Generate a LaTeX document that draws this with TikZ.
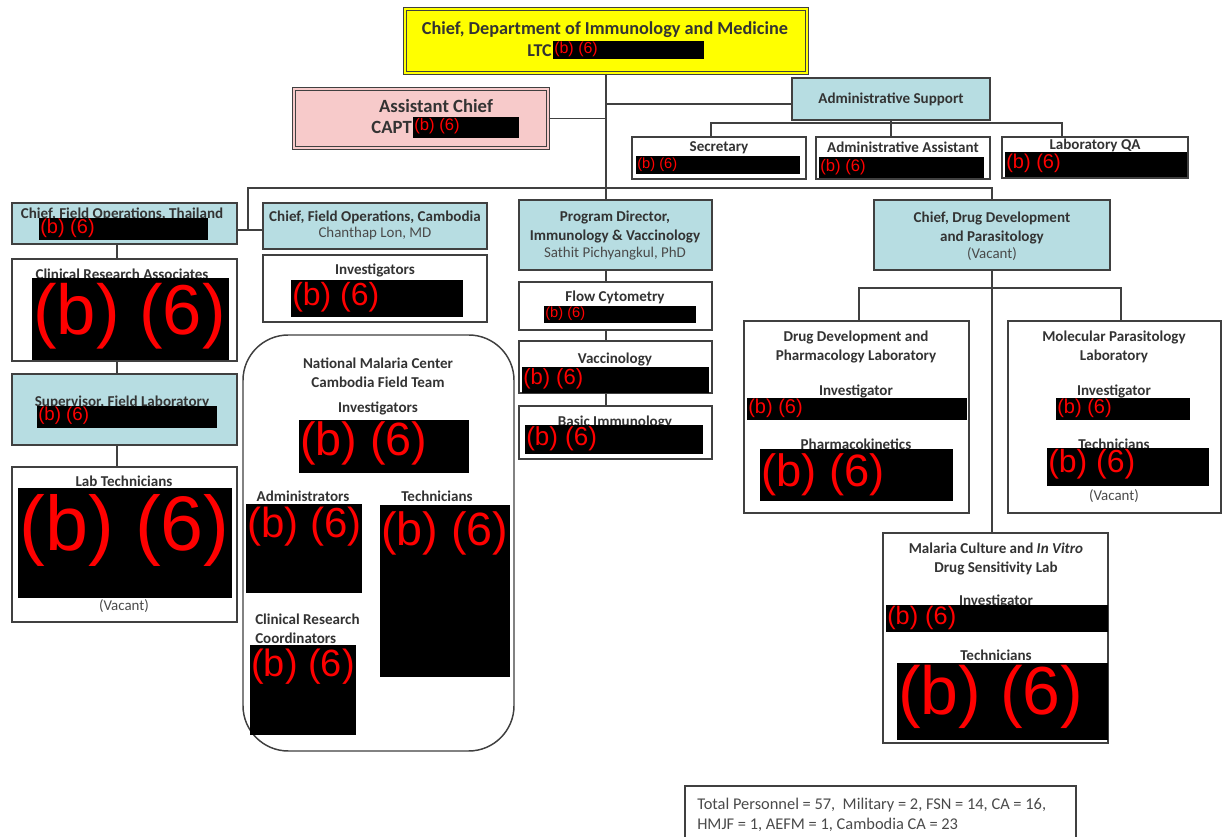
\documentclass[tikz,border=0pt]{standalone}
\usepackage{fontspec}
\setmainfont{Carlito}
\newfontfamily\redfont{Liberation Sans}
\definecolor{linec}{HTML}{404040}
\definecolor{txtc}{HTML}{333333}
\definecolor{subc}{HTML}{4A4A4A}
\definecolor{paleblue}{HTML}{B7DDE2}
\definecolor{pinkc}{HTML}{F7CACA}
\definecolor{yellowc}{HTML}{FFFF00}
\definecolor{redc}{HTML}{FF0000}
% box from corner (x1,y1) to (x2,y2), given in pixel units
\newcommand\orgbox[6][box]{%
  \node[#1, minimum width={(#5-#3)*0.75pt}, minimum height={(#6-#4)*0.75pt}]
    (#2) at ({(#3+#5)/2},{(#4+#6)/2}) {};}
% blacked-out field with its red marking: name x1 y1 x2 y2 text-y size(pt)
\newcommand\redact[7]{%
  \fill[black] (#2,#3) rectangle (#4,#5);
  \node[anchor=west, inner sep=0pt, text=redc,
        font=\redfont\fontsize{#7}{#7}\selectfont] (#1) at ({#2+1},#6) {(b) (6)};}
\begin{document}
\begin{tikzpicture}[x=0.75pt,y=-0.75pt,
  box/.style={draw=linec, line width=1.1pt, fill=white, inner sep=0pt},
  bluebox/.style={box, fill=paleblue},
  topbox/.style={box, fill=yellowc, double=yellowc, double distance=1.6pt, line width=0.8pt},
  pinkbox/.style={box, fill=pinkc, double=pinkc, double distance=1.6pt, line width=0.8pt, draw=linec},
  lbl/.style={text=txtc, font=\bfseries\fontsize{11.3}{13.4}\selectfont, inner sep=0pt, align=center},
  sub/.style={text=subc, font=\fontsize{11.2}{13.4}\selectfont, inner sep=0pt, align=center},
  conn/.style={draw=linec, line width=1pt},
]
\useasboundingbox (0,0) rectangle (1222,837);
\fill[white] (0,0) rectangle (1222,837);

% ---------- boxes ----------
\orgbox[topbox]{chief}{405}{9}{807}{73}
\orgbox[pinkbox]{asst}{294}{89}{548}{148}
\orgbox[bluebox]{admin}{792}{78}{990}{120}
\orgbox{sec}{632}{137}{806}{179}
\orgbox{aa}{816}{137}{990}{179}
\orgbox{qa}{1002}{137}{1188}{178}

\orgbox[bluebox]{tha}{12}{203}{237}{244}
\orgbox[bluebox]{cam}{263}{203}{487}{249}
\orgbox[bluebox]{prog}{519}{200}{712}{270}
\orgbox[bluebox]{drug}{874}{200}{1110}{270}

\orgbox{cra}{12}{259}{237}{361}
\orgbox[bluebox]{sup}{12}{374}{237}{445}
\orgbox{labt}{12}{467}{237}{622}

\orgbox{caminv}{263}{255}{487}{322}
\orgbox[box, rounded corners=34pt]{nmc}{243}{335}{514}{751}

\orgbox{flow}{519}{282}{712}{330}
\orgbox{vacc}{519}{341}{712}{393}
\orgbox{basic}{519}{406}{712}{459}

\orgbox{dd}{744}{321}{969}{513}
\orgbox{mp}{1008}{321}{1221}{513}
\orgbox{mc}{883}{533}{1108}{743}

% ---------- connectors ----------
\coordinate (lx) at (117,0);
\coordinate (px) at (606,0);
\coordinate (jadm) at (606,104);
\coordinate (abusL) at (711,123);
\coordinate (abusR) at (1062,123);
\coordinate (busL) at (248,188);
\coordinate (busR) at (992,188);
\coordinate (jcam) at (248,230);
\coordinate (dbL) at (859,288);
\coordinate (dbR) at (1121,288);

\draw[conn] (chief.south) -- (chief.south |- prog.north);
\draw[conn] (asst.east) -- (asst.east -| px);
\draw[conn] (jadm) -- (jadm -| admin.west);
\draw[conn] (admin.south) -- (admin.south |- aa.north);
\draw[conn] (abusL |- sec.north) -- (abusL) -- (abusR) -- (abusR |- qa.north);
\draw[conn] (jcam) -- (busL) -- (busR) -- (busR |- drug.north);
\draw[conn] (jcam -| tha.east) -- (jcam -| cam.west);
\draw[conn] (lx |- tha.south) -- (lx |- cra.north);
\draw[conn] (lx |- cra.south) -- (lx |- sup.north);
\draw[conn] (lx |- sup.south) -- (lx |- labt.north);
\draw[conn] (px |- prog.south) -- (px |- flow.north);
\draw[conn] (px |- flow.south) -- (px |- vacc.north);
\draw[conn] (px |- vacc.south) -- (px |- basic.north);
\draw[conn] (drug.south) -- (drug.south |- mc.north);
\draw[conn] (dbL |- dd.north) -- (dbL) -- (dbR) -- (dbR |- mp.north);

% ---------- labels ----------
\node[lbl, font=\bfseries\fontsize{13.7}{16}\selectfont] (chiefT) at (605,30) {Chief, Department of Immunology and Medicine};
\node[lbl, anchor=east, font=\bfseries\fontsize{13.5}{16}\selectfont] (ltc) at (552,51) {LTC};
\node[lbl, font=\bfseries\fontsize{14}{16}\selectfont] (asstT) at (436,106) {Assistant Chief};
\node[lbl, anchor=east, font=\bfseries\fontsize{14}{16}\selectfont] (capt) at (412,127) {CAPT};
\node[lbl] (adminT) at (891,99) {Administrative Support};
\node[lbl] (secT) at (719,148) {Secretary};
\node[lbl] (aaT) at (903,147) {Administrative Assistant};
\node[lbl] (qaT) at (1095,145) {Laboratory QA};

\node[lbl] (thaT) at (122,214) {Chief, Field Operations, Thailand};
\node[lbl] (camT) at (375,217) {Chief, Field Operations, Cambodia};
\node[sub] (camS) at (375,234) {Chanthap Lon, MD};
\node[lbl] (progT) at (615,227) {Program Director,\\[1pt]Immunology \& Vaccinology};
\node[sub] (progS) at (615,254) {Sathit Pichyangkul, PhD};
\node[lbl] (drugT) at (992,228) {Chief, Drug Development\\[1pt]and Parasitology};
\node[sub] (drugS) at (992,254) {(Vacant)};

\node[lbl] (craT) at (122,274) {Clinical Research Associates};
\node[lbl] (supT) at (122,402) {Supervisor, Field Laboratory};
\node[lbl] (labtT) at (124,481) {Lab Technicians};
\node[sub] (labtS) at (124,606) {(Vacant)};

\node[lbl] (caminvT) at (375,270) {Investigators};
\node[lbl] (nmcT) at (378,373) {National Malaria Center\\[1pt]Cambodia Field Team};
\node[lbl] (nmcInv) at (378,408) {Investigators};
\node[lbl] (nmcAdm) at (303,496) {Administrators};
\node[lbl] (nmcTec) at (437,496) {Technicians};
\node[lbl, anchor=west, align=left] (nmcCrc) at (255,629) {Clinical Research\\[1pt]Coordinators};

\node[lbl] (flowT) at (615,297) {Flow Cytometry};
\node[lbl] (vaccT) at (615,359) {Vaccinology};
\node[lbl] (basicT) at (615,422) {Basic Immunology};

\node[lbl] (ddT) at (856,347) {Drug Development and\\[1pt]Pharmacology Laboratory};
\node[lbl] (ddInv) at (856,391) {Investigator};
\node[lbl] (ddPk) at (856,444) {Pharmacokinetics};
\node[lbl] (mpT) at (1114,347) {Molecular Parasitology\\[1pt]Laboratory};
\node[lbl] (mpInv) at (1114,391) {Investigator};
\node[lbl] (mpTec) at (1114,444) {Technicians};
\node[sub] (mpS) at (1114,496) {(Vacant)};
\node[lbl] (mcT) at (996,559) {Malaria Culture and \textit{In Vitro}\\[1pt]Drug Sensitivity Lab};
\node[lbl] (mcInv) at (996,601) {Investigator};
\node[lbl] (mcTec) at (996,655) {Technicians};

% ---------- blacked-out names ----------
\redact{chiefR}{553}{41}{704}{59}{49}{12}
\redact{asstR}{413}{117}{519}{138}{126}{12.5}
\redact{secR}{636}{156}{800}{174}{165}{11}
\redact{aaR}{819}{157}{984}{178}{167}{12.5}
\redact{qaR}{1005}{152}{1187}{177}{163}{15}
\redact{thaR}{39}{218}{208}{240}{228}{15}
\redact{craR}{32}{278}{229}{360}{316}{53}
\redact{supR}{37}{406}{217}{428}{416}{14}
\redact{labtR}{18}{488}{232}{598}{530}{58}
\redact{caminvR}{291}{280}{463}{317}{297}{24}
\redact{nmcInvR}{299}{420}{469}{473}{443}{35}
\redact{nmcAdmR}{246}{504}{362}{593}{527}{31.5}
\redact{nmcTecR}{380}{505}{510}{677}{533}{35}
\redact{nmcCrcR}{250}{645}{356}{735}{667}{28.5}
\redact{flowR}{544}{306}{696}{323}{314}{11}
\redact{vaccR}{522}{367}{709}{393}{379}{16.5}
\redact{basicR}{525}{425}{703}{454}{439}{19.5}
\redact{ddInvR}{747}{398}{967}{420}{408}{15}
\redact{ddPkR}{760}{449}{953}{501}{475}{34}
\redact{mpInvR}{1056}{398}{1190}{420}{408}{15}
\redact{mpTecR}{1047}{448}{1209}{486}{464}{24}
\redact{mcInvR}{886}{605}{1108}{632}{618}{19}
\redact{mcTecR}{897}{663}{1108}{740}{697}{51}

% ---------- personnel totals ----------
\draw[draw=linec, line width=1.1pt] (685,838) -- (685,786) -- (1076,786) -- (1076,838);
\node[sub, anchor=west, font=\fontsize{12.3}{14}\selectfont] (tot1) at (697,805) {Total Personnel = 57,\ \ Military = 2, FSN = 14, CA = 16,};
\node[sub, anchor=west, font=\fontsize{12.3}{14}\selectfont] (tot2) at (697,825) {HMJF = 1, AEFM = 1, Cambodia CA = 23};
\end{tikzpicture}
\end{document}
